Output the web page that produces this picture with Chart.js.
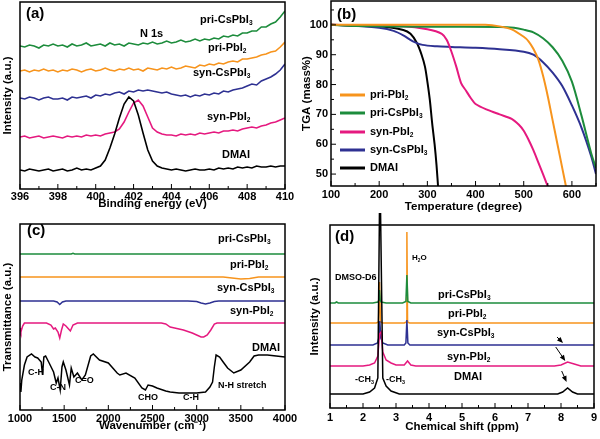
<!DOCTYPE html>
<html>
<head>
<meta charset="utf-8">
<script src="https://cdn.jsdelivr.net/npm/chart.js@4.4.1/dist/chart.umd.min.js"></script>
<style>
  body { margin: 0; background: #fff; width: 600px; height: 439px; position: relative; overflow: hidden; }
  canvas { position: absolute; }
</style>
</head>
<body>
<canvas id="chartA" width="300" height="215" style="left:0;top:0"></canvas>
<canvas id="chartB" width="300" height="215" style="left:300px;top:0"></canvas>
<canvas id="chartC" width="300" height="224" style="left:0;top:215px"></canvas>
<canvas id="chartD" width="300" height="226" style="left:300px;top:213px"></canvas>
<script>
// ---- (a) XPS N 1s ----
var bindingEnergy = [396,396.25,396.5,396.75,397,397.25,397.5,397.75,398,398.25,398.5,398.75,399,399.25,399.5,399.75,
  400,400.25,400.5,400.75,401,401.25,401.5,401.75,402,402.25,402.5,402.75,403,403.25,403.5,403.75,
  404,404.25,404.5,404.75,405,405.25,405.5,405.75,406,406.25,406.5,406.75,407,407.25,407.5,407.75,
  408,408.25,408.5,408.75,409,409.25,409.5,409.75,410];
var xpsPriCsPbI3 = [143,142,144,143,141,144,143,145,143,144,142,145,143,144,146,143,144,145,143,146,144,145,143,146,145,144,146,145,147,145,146,148,146,147,149,147,148,150,148,150,149,151,150,153,152,154,153,156,156,158,158,162,162,165,167,172,178];
var xpsPriPbI2 = [118,119,117,119,118,120,118,119,117,119,118,120,119,117,119,120,118,119,121,119,118,120,119,121,119,120,118,121,120,119,121,120,122,120,121,123,122,121,124,123,125,124,126,125,127,128,127,130,130,131,132,134,135,137,138,142,147];
var xpsSynCsPbI3 = [91,90,92,91,89,91,92,90,90,91,89,92,91,92,93,91,94,93,95,94,96,97,95,98,97,99,98,99,98,97,96,97,95,94,93,94,92,94,93,95,94,96,95,98,97,99,100,101,103,105,104,108,110,112,115,119,125];
var xpsSynPbI2 = [52,53,51,52,53,51,52,53,52,51,53,52,53,52,54,53,54,53,55,56,57,60,67,77,86,89,83,72,61,57,55,54,54,53,55,54,55,54,56,55,56,57,56,58,58,59,58,60,61,62,61,63,64,66,67,69,71];
var xpsDMAI = [19,18,20,19,18,19,20,18,19,20,18,19,21,19,20,19,21,23,29,41,55,71,85,92,88,74,56,39,28,23,21,20,19,20,19,18,19,20,19,19,20,19,21,20,21,20,22,21,22,21,23,22,22,23,22,23,23];
var xTicksA = [396,398,400,402,404,406,408,410];
var xMinorA = [397,399,401,403,405,407,409];

// ---- (b) TGA ----
var tPriPbI2 = [100,200,300,420,450,475,500,510,520,530,540,550,560,570,580,590];
var mPriPbI2 = [100,100,100,100,99.5,98.5,96,94.5,92,88.5,83,76,68,60,52,44];
var tPriCsPbI3 = [100,150,300,450,480,500,520,540,560,580,600,620,640,650];
var mPriCsPbI3 = [100,99.6,99.4,99.3,99,98.4,97.5,95.5,92.5,88,81,69.5,57,52];
var tSynPbI2 = [100,250,300,330,340,350,360,370,380,390,400,425,450,475,490,500,510,520,530,540,552];
var mSynPbI2 = [100,99.5,98.5,97,95,91,86,80.5,78,75.5,73.5,71.5,70,68.5,66.5,64.5,61.5,58,54,50,45];
var tSynCsPbI3 = [100,150,200,230,250,270,290,320,350,400,450,500,520,540,560,580,600,620,640,650];
var mSynCsPbI3 = [100,99.7,99,98,96.5,94.5,93.3,92.8,92.6,92.3,91.8,91,90,87.5,84,79.5,73,65.5,56,50];
var tDMAI = [100,150,200,250,265,278,288,295,300,305,310,315,319,323];
var mDMAI = [100,99.7,99.5,98.3,97,94,90,86,81,75,67,60,53,44];
var xTicksB = [100,200,300,400,500,600];
var xMinorB = [150,250,350,450,550,650];
var yTicksB = [50,60,70,80,90,100];
var yMinorB = [55,65,75,85,95,105];

// ---- (c) FTIR ----
var wnPriCsPbI3 = [1000,1580,1600,1620,2000,3000,4000];
var trPriCsPbI3 = [156,156,156.8,156,156,156,156];
var wnPriPbI2 = [1000,1500,2000,2500,3000,3300,3400,3500,3600,3700,4000];
var trPriPbI2 = [133,133,133,133,133,133,132,131,131.5,133,133];
var wnSynCsPbI3 = [1000,1380,1420,1450,1480,1520,1600,2000,2500,2900,3000,3050,3100,3150,3200,3250,4000];
var trSynCsPbI3 = [109,109,108,105.5,108,109,109,109,109,109,108.5,107,106,107,108.5,109,109];
var wnSynPbI2 = [1000,1010,1030,1050,1300,1350,1380,1400,1430,1450,1470,1490,1520,1550,1570,1600,1650,2600,2650,2700,2750,2850,2950,3000,3050,3080,3120,3160,3200,3230,4000];
var trSynPbI2 = [82,78,84,87,87,85,81,82,78,72,80,86,84,81,79,85,87,87,86,83,82,80,77,75,73,73,75,80,86,87,87];
var wnDMAI = [1000,1010,1020,1050,1080,1130,1170,1200,1240,1255,1270,1290,1330,1380,1410,1430,1455,1475,1490,1520,
  1560,1580,1610,1650,1700,1740,1800,1830,1900,2000,2100,2130,2200,2300,2380,2420,2450,2500,2550,2650,
  2700,2800,2900,3000,3100,3150,3180,3200,3220,3260,3300,3350,3420,3500,3600,3650,3700,3800,3900,4000];
var trDMAI = [27,18,30,45,53,56,53,52,48,35,53,54,47,38,27,32,20,43,48,40,
  25,42,33,37,30,35,54,56,50,47,37,35,37,32,22,20,25,24,22,19,
  18,17,17,17,18,23,28,43,55,53,48,42,37,40,48,54,55,55,54,53];
var xTicksC = [1000,1500,2000,2500,3000,3500,4000];
var xMinorC = [1250,1750,2250,2750,3250,3750];

// ---- (d) 1H NMR ----
var ppmPriCsPbI3 = [1,1.15,1.2,1.25,2.3,2.45,2.48,2.5,2.52,2.55,2.7,3.2,3.3,3.33,3.36,3.45,9];
var nmrPriCsPbI3 = [105,105,106,105,105,106,108,118,108,106,105,105,106.5,133,106.5,105,105];
var ppmPriPbI2 = [1,2.4,2.47,2.5,2.53,2.6,3.25,3.31,3.33,3.35,3.41,9];
var nmrPriPbI2 = [85,85,86,126,86,85,85,86,176,86,85,85];
var ppmSynCsPbI3 = [1,2.3,2.44,2.48,2.51,2.54,2.6,2.75,3.25,3.3,3.33,3.36,3.42,9];
var nmrSynCsPbI3 = [63,63,65,70,87,70,65,63,63,65,88,65,63,63];
var ppmSynPbI2 = [1,2.0,2.2,2.35,2.45,2.5,2.55,2.6,2.7,2.85,3.0,3.25,3.35,3.45,3.6,7.8,8.0,8.2,8.4,8.6,9];
var nmrSynPbI2 = [42,42,43,45,52,74,76,56,48,45,43,43,47,43,42,42,43,46,44,42,42];
var ppmDMAI = [1,2.0,2.2,2.35,2.45,2.5,2.53,2.6,2.7,2.85,3.1,7.9,8.05,8.2,8.35,8.5,9];
var nmrDMAI = [14,14,16,20,30,200,200,30,22,17,14,14,16,20,16,14,14];
var xTicksD = [1,2,3,4,5,6,7,8,9];
var xMinorD = [1.5,2.5,3.5,4.5,5.5,6.5,7.5,8.5];

var GREEN = '#1d8c3c', ORANGE = '#f7941d', BLUE = '#2e3192', PINK = '#e5197f', BLACK = '#000000';
var FONT = "'Liberation Sans', Arial, sans-serif";

function pts(xs, ys) {
  return xs.map(function(x, i) { return {x: x, y: ys[i]}; });
}

// text with "_2" style subscripts
function drawRich(ctx, text, x, y, size) {
  var parts = text.split(/(_.)/);
  var cx = x;
  ctx.textAlign = 'left';
  ctx.textBaseline = 'middle';
  parts.forEach(function(p) {
    if (!p) return;
    if (p[0] === '_') {
      ctx.font = 'bold ' + (size * 0.6) + 'px ' + FONT;
      ctx.fillText(p[1], cx, y + size * 0.32);
      cx += ctx.measureText(p[1]).width;
    } else {
      ctx.font = 'bold ' + size + 'px ' + FONT;
      ctx.fillText(p, cx, y);
      cx += ctx.measureText(p).width;
    }
  });
}

var panelDecor = {
  id: 'panelDecor',
  afterDatasetsDraw: function(chart, args, opts) {
    var ctx = chart.ctx, a = chart.chartArea, sx = chart.scales.x, sy = chart.scales.y;
    ctx.save();
    ctx.strokeStyle = '#000';
    ctx.fillStyle = '#000';
    ctx.lineWidth = 1.5;
    ctx.strokeRect(a.left, a.top, a.right - a.left, a.bottom - a.top);
    ctx.lineWidth = 1;
    function tick(x1, y1, x2, y2) { ctx.beginPath(); ctx.moveTo(x1, y1); ctx.lineTo(x2, y2); ctx.stroke(); }
    (opts.xMajor || []).forEach(function(v) { var p = sx.getPixelForValue(v); tick(p, a.bottom, p, a.bottom - 5); });
    (opts.xMinor || []).forEach(function(v) { var p = sx.getPixelForValue(v); tick(p, a.bottom, p, a.bottom - 3); });
    (opts.yMajor || []).forEach(function(v) { var p = sy.getPixelForValue(v); tick(a.left, p, a.left + 5, p); });
    (opts.yMinor || []).forEach(function(v) { var p = sy.getPixelForValue(v); tick(a.left, p, a.left + 3, p); });
    (opts.texts || []).forEach(function(t) { drawRich(ctx, t.s, t.x, t.y, t.size || 11); });
    if (opts.legend) {
      var L = opts.legend;
      chart.data.datasets.forEach(function(ds, i) {
        var y = L.ys[i];
        ctx.strokeStyle = ds.borderColor;
        ctx.lineWidth = 3;
        tick(L.x1, y, L.x2, y);
        drawRich(ctx, ds.label, L.textX, y, 11);
      });
    }
    ctx.strokeStyle = '#000';
    ctx.lineWidth = 1;
    (opts.arrows || []).forEach(function(ar) {
      var x1 = sx.getPixelForValue(ar.x1), y1 = sy.getPixelForValue(ar.y1);
      var x2 = sx.getPixelForValue(ar.x2), y2 = sy.getPixelForValue(ar.y2);
      var ang = Math.atan2(y2 - y1, x2 - x1);
      tick(x1, y1, x2 - 3 * Math.cos(ang), y2 - 3 * Math.sin(ang));
      ctx.beginPath();
      ctx.moveTo(x2, y2);
      ctx.lineTo(x2 - 6 * Math.cos(ang) + 2.5 * Math.sin(ang), y2 - 6 * Math.sin(ang) - 2.5 * Math.cos(ang));
      ctx.lineTo(x2 - 6 * Math.cos(ang) - 2.5 * Math.sin(ang), y2 - 6 * Math.sin(ang) + 2.5 * Math.cos(ang));
      ctx.closePath();
      ctx.fill();
    });
    ctx.restore();
  }
};

function line(label, color, data, extra) {
  var ds = {label: label, data: data, borderColor: color, backgroundColor: color, fill: false};
  for (var k in extra) ds[k] = extra[k];
  return ds;
}

function buildChart(id, p) {
  return new Chart(document.getElementById(id), {
    type: 'line',
    data: {datasets: p.datasets},
    options: {
      responsive: false,
      animation: false,
      layout: {padding: {left: 0, right: p.padRight, top: p.padTop, bottom: 0}},
      elements: {point: {radius: 0}, line: {borderWidth: p.lineWidth, tension: p.tension || 0}},
      plugins: {legend: {display: false}, tooltip: {enabled: false}, panelDecor: p.decor},
      scales: {
        x: {
          type: 'linear', min: p.x.min, max: p.x.max,
          afterBuildTicks: function(s) { s.ticks = p.x.ticks.map(function(v) { return {value: v}; }); },
          afterFit: function(s) { s.height = p.x.height; s.paddingLeft = 0; s.paddingRight = 0; s.paddingTop = 0; s.paddingBottom = 0; },
          grid: {display: false, drawTicks: false}, border: {display: false},
          ticks: {color: '#000', font: {family: FONT, weight: 'bold', size: 11}, padding: p.x.pad, maxRotation: 0, autoSkip: false,
                  callback: function(v) { return String(v); }},
          title: {display: true, text: p.x.title, color: '#000', font: {family: FONT, weight: 'bold', size: 11.5},
                  padding: {top: 0, bottom: p.x.titlePad}}
        },
        y: {
          type: 'linear', min: p.y.min, max: p.y.max,
          afterBuildTicks: function(s) { s.ticks = (p.y.ticks || [p.y.min, p.y.max]).map(function(v) { return {value: v}; }); },
          afterFit: function(s) { s.width = p.y.width; s.paddingLeft = 0; s.paddingRight = 0; s.paddingTop = 0; s.paddingBottom = 0; },
          grid: {display: false, drawTicks: false}, border: {display: false},
          ticks: {display: !!p.y.ticks, color: '#000', font: {family: FONT, weight: 'bold', size: 11}, padding: 3,
                  callback: function(v) { return String(v); }},
          title: {display: true, text: p.y.title, color: '#000', font: {family: FONT, weight: 'bold', size: 11.5},
                  padding: {top: p.y.titlePad, bottom: 0}}
        }
      }
    },
    plugins: [panelDecor]
  });
}

// (a)
buildChart('chartA', {
  padRight: 15, padTop: 2, lineWidth: 1.6,
  datasets: [
    line('DMAI', BLACK, pts(bindingEnergy, xpsDMAI)),
    line('syn-PbI_2', PINK, pts(bindingEnergy, xpsSynPbI2)),
    line('syn-CsPbI_3', BLUE, pts(bindingEnergy, xpsSynCsPbI3)),
    line('pri-PbI_2', ORANGE, pts(bindingEnergy, xpsPriPbI2)),
    line('pri-CsPbI_3', GREEN, pts(bindingEnergy, xpsPriCsPbI3))
  ],
  x: {min: 396, max: 410, ticks: xTicksA, height: 26, pad: 1, title: 'Binding energy (eV)', titlePad: 4},
  y: {min: 0, max: 187, width: 20, title: 'Intensity (a.u.)', titlePad: 1},
  decor: {
    xMajor: xTicksA, xMinor: xMinorA,
    texts: [
      {s: '(a)', x: 26, y: 14, size: 15},
      {s: 'pri-CsPbI_3', x: 200, y: 20},
      {s: 'N 1s', x: 140, y: 34},
      {s: 'pri-PbI_2', x: 208, y: 48},
      {s: 'syn-CsPbI_3', x: 193, y: 73},
      {s: 'syn-PbI_2', x: 207, y: 117},
      {s: 'DMAI', x: 222, y: 155}
    ]
  }
});

// (b)
buildChart('chartB', {
  padRight: 4, padTop: 1, lineWidth: 2, tension: 0.3,
  datasets: [
    line('pri-PbI_2', ORANGE, pts(tPriPbI2, mPriPbI2)),
    line('pri-CsPbI_3', GREEN, pts(tPriCsPbI3, mPriCsPbI3)),
    line('syn-PbI_2', PINK, pts(tSynPbI2, mSynPbI2)),
    line('syn-CsPbI_3', BLUE, pts(tSynCsPbI3, mSynCsPbI3)),
    line('DMAI', BLACK, pts(tDMAI, mDMAI))
  ],
  x: {min: 100, max: 650, ticks: xTicksB, height: 29, pad: 2, title: 'Temperature (degree)', titlePad: 1},
  y: {min: 46, max: 108, ticks: yTicksB, width: 31, title: 'TGA (mass%)', titlePad: 0},
  decor: {
    xMajor: xTicksB, xMinor: xMinorB, yMajor: yTicksB, yMinor: yMinorB,
    texts: [{s: '(b)', x: 37, y: 15, size: 15}],
    legend: {x1: 40, x2: 65, textX: 70, ys: [95, 113, 132, 150, 168]}
  }
});

// (c)
buildChart('chartC', {
  padRight: 15, padTop: 9, lineWidth: 1.5,
  datasets: [
    line('DMAI', BLACK, pts(wnDMAI, trDMAI)),
    line('syn-PbI_2', PINK, pts(wnSynPbI2, trSynPbI2)),
    line('syn-CsPbI_3', BLUE, pts(wnSynCsPbI3, trSynCsPbI3)),
    line('pri-PbI_2', ORANGE, pts(wnPriPbI2, trPriPbI2)),
    line('pri-CsPbI_3', GREEN, pts(wnPriCsPbI3, trPriCsPbI3))
  ],
  x: {min: 1000, max: 4000, ticks: xTicksC, height: 29, pad: 2, title: 'Wavenumber (cm\u207B\u00B9)', titlePad: 6},
  y: {min: 0, max: 186, width: 20, title: 'Transmittance (a.u.)', titlePad: 1},
  decor: {
    xMajor: xTicksC, xMinor: xMinorC,
    texts: [
      {s: '(c)', x: 27, y: 16, size: 15},
      {s: 'pri-CsPbI_3', x: 218, y: 24},
      {s: 'pri-PbI_2', x: 230, y: 50},
      {s: 'syn-CsPbI_3', x: 217, y: 73},
      {s: 'syn-PbI_2', x: 230, y: 96},
      {s: 'DMAI', x: 252, y: 133},
      {s: 'C-H', x: 28, y: 158, size: 9},
      {s: 'C-N', x: 50, y: 173, size: 9},
      {s: 'C=O', x: 75, y: 166, size: 9},
      {s: 'CHO', x: 138, y: 183, size: 9},
      {s: 'C-H', x: 183, y: 183, size: 9},
      {s: 'N-H stretch', x: 218, y: 171, size: 9}
    ]
  }
});

// (d)
buildChart('chartD', {
  padRight: 6, padTop: 12, lineWidth: 1.5,
  datasets: [
    line('DMAI', BLACK, pts(ppmDMAI, nmrDMAI), {clip: false}),
    line('syn-PbI_2', PINK, pts(ppmSynPbI2, nmrSynPbI2)),
    line('syn-CsPbI_3', BLUE, pts(ppmSynCsPbI3, nmrSynCsPbI3)),
    line('pri-CsPbI_3', GREEN, pts(ppmPriCsPbI3, nmrPriCsPbI3)),
    line('pri-PbI_2', ORANGE, pts(ppmPriPbI2, nmrPriPbI2))
  ],
  x: {min: 1, max: 9, ticks: xTicksD, height: 31, pad: 3, title: 'Chemical shift (ppm)', titlePad: 5},
  y: {min: 0, max: 183, width: 30, title: 'Intensity (a.u.)', titlePad: 8},
  decor: {
    xMajor: xTicksD, xMinor: xMinorD,
    texts: [
      {s: '(d)', x: 35, y: 24, size: 15},
      {s: 'DMSO-D6', x: 35, y: 65, size: 9},
      {s: 'H_2O', x: 112, y: 45, size: 8},
      {s: 'pri-CsPbI_3', x: 138, y: 82},
      {s: 'pri-PbI_2', x: 148, y: 101},
      {s: 'syn-CsPbI_3', x: 137, y: 120},
      {s: 'syn-PbI_2', x: 147, y: 144},
      {s: 'DMAI', x: 154, y: 164},
      {s: '-CH_3', x: 55, y: 167, size: 9},
      {s: '-CH_3', x: 86, y: 167, size: 9}
    ],
    arrows: [
      {x1: 7.88, y1: 71, x2: 8.06, y2: 65},
      {x1: 7.84, y1: 61, x2: 8.13, y2: 47},
      {x1: 8.02, y1: 37, x2: 8.17, y2: 26}
    ]
  }
});
</script>
</body>
</html>
